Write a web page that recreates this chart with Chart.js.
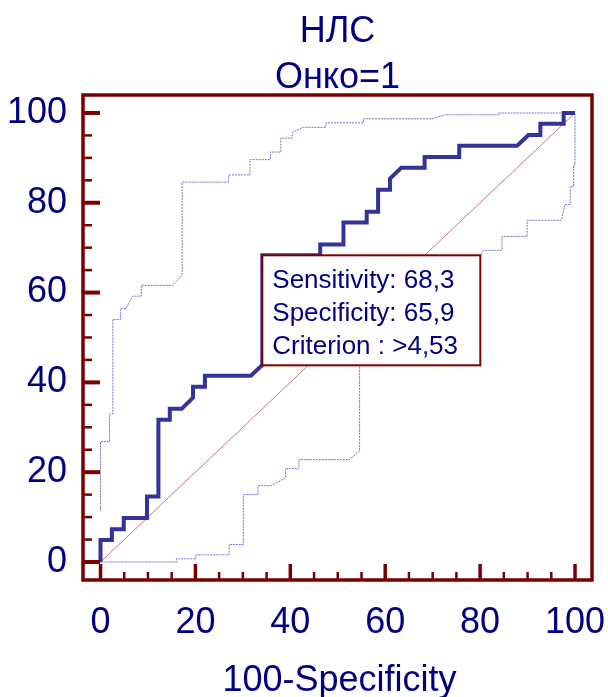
<!DOCTYPE html>
<html>
<head>
<meta charset="utf-8">
<script src="https://cdn.jsdelivr.net/npm/chart.js@4/dist/chart.umd.min.js"></script>
<style>
  html, body { margin: 0; padding: 0; background: #ffffff; }
  canvas { display: block; }
</style>
</head>
<body>
<canvas id="roc" width="608" height="697"></canvas>
<script>
// Titles and axis text
const titleLines = ['НЛС', 'Онко=1'];
const xAxisTitle = '100-Specificity';

// Axis ticks: labelled every 20, minor marks every 5
const majorTicks = [0, 20, 40, 60, 80, 100];
const minorTicks = [0, 5, 10, 15, 20, 25, 30, 35, 40, 45, 50, 55, 60, 65, 70, 75, 80, 85, 90, 95, 100];

// ROC curve: 100-Specificity (x) vs Sensitivity (y), in %
const rocX = [0, 0, 2.4, 2.4, 4.9, 4.9, 9.8, 9.8, 12.2, 12.2, 14.6, 14.6, 17.1, 19.5, 19.5, 22.0, 22.0, 31.7,
              34.1, 34.1, 46.3, 46.3, 51.2, 51.2, 56.1, 56.1, 58.5, 58.5, 61.0, 61.0, 63.4, 68.3, 68.3,
              75.6, 75.6, 87.8, 90.2, 92.7, 92.7, 97.6, 97.6, 100];
const rocY = [0, 4.9, 4.9, 7.3, 7.3, 9.8, 9.8, 14.6, 14.6, 31.7, 31.7, 34.1, 34.1, 36.6, 39.0, 39.0, 41.5, 41.5,
              43.9, 68.3, 68.3, 70.7, 70.7, 75.6, 75.6, 78.0, 78.0, 82.9, 82.9, 85.4, 87.8, 87.8, 90.2,
              90.2, 92.7, 92.7, 95.1, 95.1, 97.6, 97.6, 100, 100];

// Upper confidence bound
const upperX = [0, 0, 1.9, 1.9, 2.6, 2.6, 4.2, 4.2, 5.3, 6.8, 8.6, 8.6, 15.3, 17.2, 17.2, 27.0, 27.0, 31.5,
                31.5, 35.8, 35.8, 38.0, 38.0, 40.4, 40.4, 42.6, 47.5, 47.5, 55.4, 55.4, 69.8, 72.6, 83.9, 83.9, 100];
const upperY = [11.5, 26.8, 26.8, 33.0, 33.0, 54.0, 54.0, 56.4, 56.4, 59.2, 59.2, 61.6, 61.6, 64.0, 84.6, 84.6,
                86.2, 86.2, 89.6, 89.6, 91.3, 91.3, 94.4, 94.4, 95.6, 96.8, 96.8, 97.8, 97.8, 98.7, 98.7, 99.6,
                99.6, 100, 100];

// Lower confidence bound
const lowerX = [0, 16.0, 16.0, 20.1, 20.1, 27.1, 27.1, 30.1, 30.1, 33.2, 33.2, 35.9, 39.0, 39.0, 41.8, 41.8,
                52.4, 54.6, 54.6, 80.0, 80.7, 84.6, 84.6, 89.9, 89.9, 97.1, 97.9, 99.0, 99.0, 99.7, 99.7, 100, 100];
const lowerY = [0, 0, 0.7, 0.7, 1.6, 1.6, 3.9, 3.9, 15.0, 15.0, 17.0, 17.0, 18.7, 20.8, 20.8, 22.8, 22.8, 24.7,
                43.8, 68.1, 69.4, 69.4, 72.5, 72.5, 76.1, 76.1, 79.6, 79.6, 83.6, 83.6, 88.3, 88.3, 100];

// Chance line
const diagX = [0, 100];
const diagY = [0, 100];

// Optimal cut-off
const sensitivity = 68.3;
const specificity = 65.9;
const criterion = '>4,53';

const FONT = '"Liberation Sans", Arial, Helvetica, sans-serif';
const NAVY = '#000080';
const FRAME = '#7a0000';

const pts = (xs, ys) => xs.map((x, i) => ({ x: x, y: ys[i] }));
const fmt = v => v.toFixed(1).replace('.', ',');

// Frame, inward tick marks, cut-off box and text
const decorations = {
  id: 'decorations',
  beforeDraw(chart) {
    const ctx = chart.ctx;
    ctx.save();
    ctx.fillStyle = '#ffffff';
    ctx.fillRect(0, 0, chart.width, chart.height);
    ctx.restore();
  },
  afterDatasetsDraw(chart) {
    const ctx = chart.ctx;
    const xs = chart.scales.x, ys = chart.scales.y;
    const a = chart.chartArea;

    // Cut-off info box anchored at (100-Specificity, Sensitivity)
    const bx = xs.getPixelForValue(100 - specificity);
    const by = ys.getPixelForValue(sensitivity);
    const bw = 218, bh = 110;
    ctx.save();
    ctx.fillStyle = '#ffffff';
    ctx.fillRect(bx, by, bw, bh);
    ctx.strokeStyle = '#800000';
    ctx.lineWidth = 2;
    ctx.strokeRect(bx, by, bw, bh);
    ctx.fillStyle = NAVY;
    ctx.font = '26px ' + FONT;
    ctx.textAlign = 'left';
    ctx.textBaseline = 'middle';
    const lines = ['Sensitivity: ' + fmt(sensitivity), 'Specificity: ' + fmt(specificity), 'Criterion : ' + criterion];
    lines.forEach((t, i) => ctx.fillText(t, bx + 10, by + 26 + i * 33));
    ctx.restore();

    // Frame
    ctx.save();
    ctx.strokeStyle = FRAME;
    ctx.lineWidth = 3.5;
    ctx.strokeRect(a.left, a.top, a.right - a.left, a.bottom - a.top);

    // Tick marks pointing into the plot
    ctx.lineCap = 'butt';
    minorTicks.forEach(v => {
      const major = majorTicks.includes(v);
      const py = ys.getPixelForValue(v);
      ctx.lineWidth = major ? 4 : 2.5;
      ctx.beginPath();
      ctx.moveTo(a.left, py);
      ctx.lineTo(a.left + (major ? 17 : 9), py);
      ctx.stroke();
      const px = xs.getPixelForValue(v);
      ctx.lineWidth = major ? 3.5 : 2.5;
      ctx.beginPath();
      ctx.moveTo(px, a.bottom);
      ctx.lineTo(px, a.bottom - (major ? 16 : 8));
      ctx.stroke();
    });
    ctx.restore();
  },
  afterDraw(chart) {
    const ctx = chart.ctx;
    const a = chart.chartArea;
    const cx = (a.left + a.right) / 2;
    ctx.save();
    ctx.fillStyle = NAVY;
    ctx.font = '36px ' + FONT;
    ctx.textAlign = 'center';
    ctx.textBaseline = 'alphabetic';
    ctx.fillText(titleLines[0], cx, 42);
    ctx.fillText(titleLines[1], cx, 88);
    ctx.fillText(xAxisTitle, cx + 2, 690.5);
    ctx.restore();
  }
};

const tickFont = { family: FONT, size: 36, lineHeight: 1.2 };

// Keep the plot frame at fixed edges: no extra room for overhanging labels
const noOverhang = s => { s.paddingLeft = 0; s.paddingRight = 0; s.paddingTop = 0; s.paddingBottom = 0; };

new Chart(document.getElementById('roc'), {
  type: 'line',
  data: {
    datasets: [
      { data: pts(rocX, rocY), borderColor: '#333399', borderWidth: 4, borderJoinStyle: 'miter', order: 0 },
      { data: pts(upperX, upperY), borderColor: 'rgba(90,90,200,0.85)', borderWidth: 1, borderDash: [2, 1], order: 1 },
      { data: pts(lowerX, lowerY), borderColor: 'rgba(90,90,200,0.85)', borderWidth: 1, borderDash: [2, 1], order: 2 },
      { data: pts(diagX, diagY), borderColor: '#c47878', borderWidth: 1, order: 3 }
    ]
  },
  options: {
    responsive: false,
    animation: false,
    devicePixelRatio: 1,
    elements: { point: { radius: 0, hoverRadius: 0 }, line: { tension: 0, fill: false } },
    layout: { padding: { top: 95, right: 16, bottom: 0, left: 0 } },
    plugins: { legend: { display: false }, tooltip: { enabled: false }, title: { display: false } },
    events: [],
    scales: {
      x: {
        type: 'linear',
        min: -3.69,
        max: 103.58,
        afterBuildTicks: s => { s.ticks = minorTicks.map(v => ({ value: v })); },
        afterFit: s => { s.height = 117; noOverhang(s); },
        grid: { display: false, drawTicks: false },
        border: { display: false },
        ticks: {
          autoSkip: false, maxRotation: 0, padding: 21, color: NAVY, font: tickFont,
          callback: v => (majorTicks.includes(v) ? String(v) : '')
        }
      },
      y: {
        type: 'linear',
        min: -4.01,
        max: 104.0,
        afterBuildTicks: s => { s.ticks = minorTicks.map(v => ({ value: v })); },
        afterFit: s => { s.width = 83; noOverhang(s); },
        grid: { display: false, drawTicks: false },
        border: { display: false },
        ticks: {
          autoSkip: false, padding: 16, color: NAVY, font: tickFont,
          callback: v => (majorTicks.includes(v) ? String(v) : '')
        }
      }
    }
  },
  plugins: [decorations]
});
</script>
</body>
</html>
